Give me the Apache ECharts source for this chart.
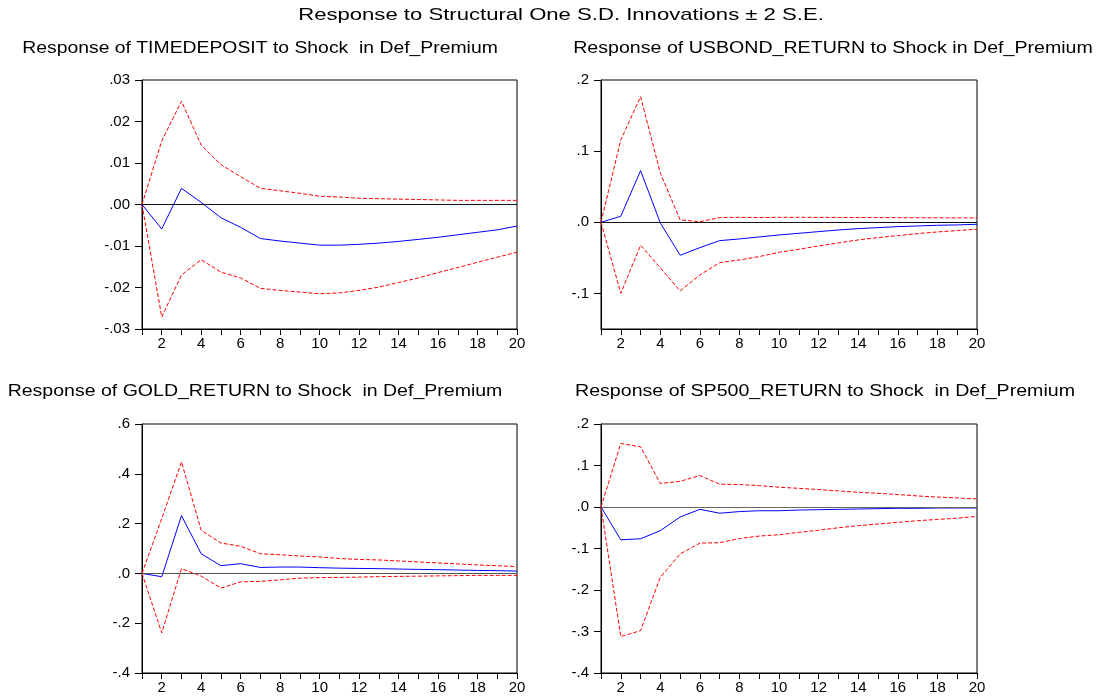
<!DOCTYPE html>
<html>
<head>
<meta charset="utf-8">
<title>Impulse responses</title>
<script src="https://cdn.jsdelivr.net/npm/echarts@6/dist/echarts.min.js"></script>
<style>
  html, body { margin: 0; padding: 0; background: #fff; }
  #chart { width: 1101px; height: 698px; }
</style>
</head>
<body>
<div id="chart"></div>
<script>
// Forecast horizon (periods)
const periods = ['1','2','3','4','5','6','7','8','9','10','11','12','13','14','15','16','17','18','19','20'];

// Titles
const mainTitle = 'Response to Structural One S.D. Innovations \u00b1 2 S.E.';
const panelTitles = [
  'Response of TIMEDEPOSIT to Shock  in Def_Premium',
  'Response of USBOND_RETURN to Shock in Def_Premium',
  'Response of GOLD_RETURN to Shock  in Def_Premium',
  'Response of SP500_RETURN to Shock  in Def_Premium'
];

// TIMEDEPOSIT: response and +/- 2 S.E. bands
const timeResp  = [0, -0.0059, 0.0039, 0.0005, -0.0032, -0.0055, -0.0082, -0.0088, -0.0093, -0.0098, -0.0098, -0.0096, -0.0093, -0.0089, -0.0084, -0.0079, -0.0073, -0.0067, -0.0061, -0.0052];
const timeUpper = [0, 0.0153, 0.0249, 0.0143, 0.0096, 0.0067, 0.0039, 0.0033, 0.0027, 0.0020, 0.0018, 0.0015, 0.0014, 0.0013, 0.0012, 0.0011, 0.0010, 0.0010, 0.0010, 0.0010];
const timeLower = [0, -0.0271, -0.0170, -0.0133, -0.0163, -0.0177, -0.0202, -0.0207, -0.0211, -0.0215, -0.0213, -0.0207, -0.0199, -0.0188, -0.0177, -0.0164, -0.0152, -0.0139, -0.0127, -0.0115];

// USBOND_RETURN
const bondResp  = [0, 0.0084, 0.0726, -0.001, -0.0464, -0.0356, -0.0258, -0.0234, -0.0206, -0.0178, -0.0155, -0.0131, -0.0108, -0.0089, -0.0075, -0.0061, -0.0052, -0.0042, -0.0037, -0.0028];
const bondUpper = [0, 0.1157, 0.1766, 0.0689, 0.0033, 0.0009, 0.0066, 0.0070, 0.0066, 0.0070, 0.0070, 0.0069, 0.0068, 0.0067, 0.0066, 0.0065, 0.0064, 0.0063, 0.0062, 0.0061];
const bondLower = [0, -0.0998, -0.0323, -0.0642, -0.0965, -0.0740, -0.0567, -0.0529, -0.0482, -0.0422, -0.0379, -0.0333, -0.0290, -0.0248, -0.0215, -0.0187, -0.0159, -0.0136, -0.0117, -0.0098];

// GOLD_RETURN
const goldResp  = [0, -0.0134, 0.232, 0.079, 0.031, 0.039, 0.024, 0.0255, 0.0255, 0.023, 0.021, 0.020, 0.019, 0.0175, 0.016, 0.015, 0.0134, 0.012, 0.011, 0.0094];
const goldUpper = [0, 0.22, 0.448, 0.173, 0.122, 0.109, 0.079, 0.075, 0.070, 0.066, 0.060, 0.056, 0.054, 0.050, 0.046, 0.042, 0.038, 0.034, 0.031, 0.027];
const goldLower = [0, -0.239, 0.019, -0.011, -0.059, -0.034, -0.032, -0.026, -0.019, -0.017, -0.016, -0.015, -0.013, -0.012, -0.011, -0.010, -0.009, -0.008, -0.008, -0.008];

// SP500_RETURN
const spResp  = [0, -0.079, -0.0766, -0.057, -0.024, -0.0056, -0.015, -0.011, -0.009, -0.009, -0.0073, -0.0065, -0.0056, -0.0048, -0.004, -0.0032, -0.0032, -0.0024, -0.0024, -0.0024];
const spUpper = [0, 0.153, 0.145, 0.0565, 0.062, 0.0758, 0.055, 0.054, 0.0516, 0.0476, 0.045, 0.042, 0.0387, 0.0355, 0.033, 0.030, 0.0266, 0.024, 0.0218, 0.0194];
const spLower = [0, -0.312, -0.298, -0.169, -0.113, -0.087, -0.086, -0.076, -0.070, -0.067, -0.061, -0.056, -0.050, -0.045, -0.041, -0.037, -0.033, -0.030, -0.027, -0.0226];

// Y-axis tick values for each panel
const yTicks1 = [-0.03, -0.02, -0.01, 0, 0.01, 0.02, 0.03];
const yTicks2 = [-0.1, 0, 0.1, 0.2];
const yTicks3 = [-0.4, -0.2, 0, 0.2, 0.4, 0.6];
const yTicks4 = [-0.4, -0.3, -0.2, -0.1, 0, 0.1, 0.2];

const panels = [
  { resp: timeResp, upper: timeUpper, lower: timeLower, ticks: yTicks1, min: -0.03, max: 0.03, step: 0.01, digits: 2, zero: '#111' },
  { resp: bondResp, upper: bondUpper, lower: bondLower, ticks: yTicks2, min: -0.15, max: 0.2, step: 0.05, digits: 1, zero: '#111' },
  { resp: goldResp, upper: goldUpper, lower: goldLower, ticks: yTicks3, min: -0.4, max: 0.6, step: 0.2, digits: 1, zero: '#555' },
  { resp: spResp, upper: spUpper, lower: spLower, ticks: yTicks4, min: -0.4, max: 0.2, step: 0.1, digits: 1, zero: '#666' }
];

const grids = [
  { left: 142, top: 80, width: 375, height: 249 },
  { left: 601, top: 80, width: 376, height: 249 },
  { left: 142, top: 424, width: 375, height: 249 },
  { left: 601, top: 424, width: 376, height: 249 }
];
// Title anchors (centre x, middle y) and horizontal stretch of the wide heading type
const mainTitlePos = { x: 561, y: 15, sx: 1.3 };
const titlePos = [
  { x: 260, y: 49, sx: 1.21 }, { x: 833, y: 49, sx: 1.225 },
  { x: 255, y: 392, sx: 1.22 }, { x: 825, y: 392, sx: 1.225 }
];

const FONT = '"Liberation Sans", Arial, sans-serif';

// EViews-style labels: drop the leading zero (".03", "-.01")
function fmt(v, digits) {
  const s = Math.abs(v).toFixed(digits).replace(/^0/, '');
  return (v < -1e-9 ? '-' : '') + s;
}

function headingText(text, pos, size) {
  return {
    type: 'text', x: pos.x, y: pos.y, scaleX: pos.sx, silent: true,
    style: {
      text: text, fill: '#000', font: 'normal ' + size + 'px ' + FONT,
      textAlign: 'center', textVerticalAlign: 'middle'
    }
  };
}

const option = {
  backgroundColor: '#fff',
  animation: false,
  graphic: [headingText(mainTitle, mainTitlePos, 17)]
    .concat(panelTitles.map((t, i) => headingText(t, titlePos[i], 16))),
  grid: grids.map(g => Object.assign({ show: true, borderColor: '#000', borderWidth: 1, backgroundColor: 'transparent' }, g)),
  xAxis: panels.map((p, i) => ({
    type: 'category', gridIndex: i, data: periods, boundaryGap: false,
    axisLine: { onZero: false, lineStyle: { color: '#000', width: 1 } },
    axisTick: { show: true, interval: 0, length: 6, inside: false, lineStyle: { color: '#000' } },
    axisLabel: {
      interval: (idx, val) => Number(val) % 2 === 0,
      fontFamily: FONT, fontSize: 15, color: '#000', margin: 7
    },
    splitLine: { show: false }
  })),
  yAxis: panels.map((p, i) => ({
    type: 'value', gridIndex: i, min: p.min, max: p.max, interval: p.step,
    axisLine: { show: true, lineStyle: { color: '#000', width: 1 } },
    axisTick: { show: true, length: 7, lineStyle: { color: '#000' }, customValues: p.ticks },
    axisLabel: {
      fontFamily: FONT, fontSize: 15, color: '#000', margin: 12,
      customValues: p.ticks,
      formatter: v => fmt(v, p.digits)
    },
    splitLine: { show: false }
  })),
  series: []
};

panels.forEach((p, i) => {
  const common = { type: 'line', xAxisIndex: i, yAxisIndex: i, symbol: 'none', silent: true };
  option.series.push(Object.assign({}, common, {
    name: 'response' + i, data: p.resp, z: 4,
    lineStyle: { color: '#0000ff', width: 1 },
    markLine: {
      silent: true, symbol: 'none', label: { show: false },
      lineStyle: { color: p.zero, type: 'solid', width: 1 },
      data: [{ yAxis: 0 }]
    }
  }));
  option.series.push(Object.assign({}, common, {
    name: 'upper' + i, data: p.upper, z: 3,
    lineStyle: { color: '#ff0000', width: 1, type: [4, 2] }
  }));
  option.series.push(Object.assign({}, common, {
    name: 'lower' + i, data: p.lower, z: 3,
    lineStyle: { color: '#ff0000', width: 1, type: [4, 2] }
  }));
});

const chart = echarts.init(document.getElementById('chart'), null, { renderer: 'canvas' });
chart.setOption(option);
</script>
</body>
</html>
